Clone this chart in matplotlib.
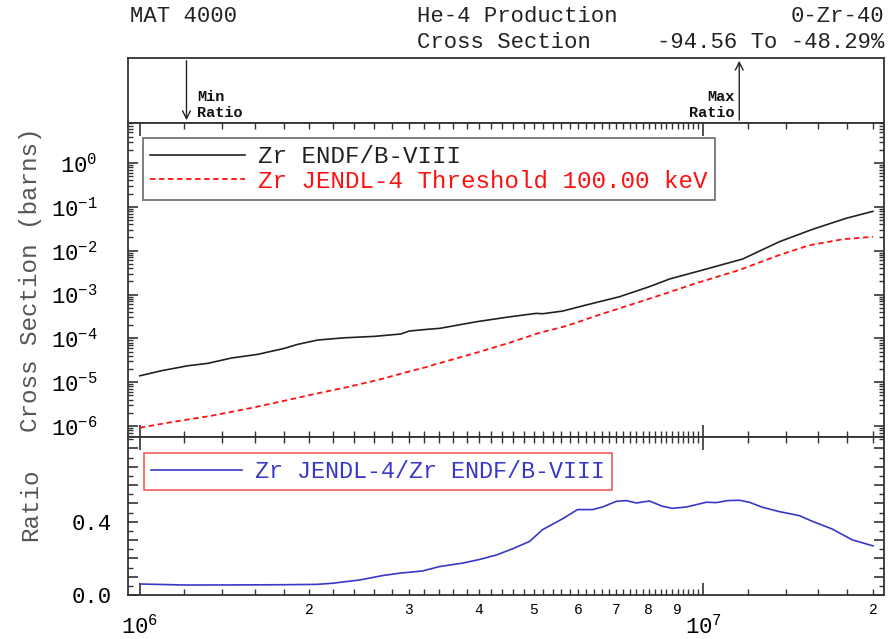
import numpy as np
import matplotlib.pyplot as plt
from matplotlib.ticker import FixedLocator, FuncFormatter, NullFormatter, NullLocator

plt.rcParams['font.family'] = 'Liberation Mono'
plt.rcParams['mathtext.fontset'] = 'custom'
plt.rcParams['mathtext.rm'] = 'Liberation Mono'
plt.rcParams['mathtext.it'] = 'Liberation Mono'
plt.rcParams['mathtext.bf'] = 'Liberation Mono:bold'

# Zr ENDF/B-VIII He-4 production (eV, barns)
endf_e = [1.0e6, 1.091e6, 1.216e6, 1.32e6, 1.452e6, 1.619e6, 1.805e6, 1.906e6, 2.068e6,
          2.307e6, 2.607e6, 2.906e6, 3.007e6, 3.241e6, 3.403e6, 3.954e6, 4.469e6, 5.05e6,
          5.19e6, 5.63e6, 6.19e6, 7.10e6, 8.02e6, 8.71e6, 9.97e6, 1.174e7, 1.364e7,
          1.562e7, 1.791e7, 2.0e7]
endf_xs = [1.40e-5, 1.82e-5, 2.37e-5, 2.69e-5, 3.55e-5, 4.32e-5, 5.91e-5, 7.30e-5, 9.16e-5,
           1.03e-4, 1.11e-4, 1.26e-4, 1.47e-4, 1.61e-4, 1.69e-4, 2.39e-4, 3.02e-4, 3.72e-4,
           3.65e-4, 4.20e-4, 5.75e-4, 8.91e-4, 1.51e-3, 2.26e-3, 3.62e-3, 6.45e-3, 1.60e-2,
           3.07e-2, 5.47e-2, 7.91e-2]

# Zr JENDL-4 He-4 production (eV, barns)
jendl_e = [1.0e6, 1.121e6, 1.338e6, 1.597e6, 1.829e6, 2.04e6, 2.307e6, 2.642e6, 2.946e6,
           3.241e6, 3.311e6, 3.954e6, 4.529e6, 5.12e6, 5.71e6, 6.54e6, 8.02e6, 8.47e6,
           9.70e6, 1.158e7, 1.364e7, 1.542e7, 1.766e7, 2.0e7]
jendl_xs = [9.14e-7, 1.19e-6, 1.71e-6, 2.67e-6, 3.92e-6, 5.37e-6, 7.47e-6, 1.12e-5, 1.64e-5,
            2.25e-5, 2.46e-5, 4.70e-5, 7.94e-5, 1.34e-4, 1.91e-4, 3.46e-4, 8.02e-4, 1.01e-3,
            1.80e-3, 3.62e-3, 7.96e-3, 1.33e-2, 1.82e-2, 2.08e-2]

# JENDL-4 / ENDF/B-VIII ratio
ratio_e = [1.0e6, 1.21e6, 1.462e6, 1.793e6, 2.06e6, 2.198e6, 2.455e6, 2.697e6, 2.89e6,
           3.175e6, 3.40e6, 3.74e6, 4.01e6, 4.30e6, 4.585e6, 4.915e6, 5.18e6, 5.62e6,
           5.98e6, 6.36e6, 6.62e6, 7.01e6, 7.30e6, 7.61e6, 8.02e6, 8.46e6, 8.81e6, 9.33e6,
           1.012e7, 1.055e7, 1.103e7, 1.158e7, 1.207e7, 1.272e7, 1.364e7, 1.48e7, 1.561e7,
           1.693e7, 1.837e7, 2.0e7]
ratio = [0.060, 0.0544, 0.055, 0.056, 0.058, 0.064, 0.082, 0.106, 0.119,
         0.131, 0.155, 0.174, 0.194, 0.219, 0.252, 0.292, 0.356, 0.415,
         0.466, 0.466, 0.480, 0.511, 0.515, 0.502, 0.513, 0.484, 0.473, 0.480,
         0.506, 0.504, 0.515, 0.517, 0.506, 0.479, 0.455, 0.433, 0.402,
         0.360, 0.301, 0.268]

W, H = 896, 639
fig = plt.figure(figsize=(W / 100, H / 100), dpi=100)


def box(top, bottom):
    return [128 / W, 1 - bottom / H, 756 / W, (bottom - top) / H]


ax0 = fig.add_axes(box(58, 123))
ax1 = fig.add_axes(box(123, 437))
ax2 = fig.add_axes(box(437, 595))

xlim = (10 ** 5.979, 10 ** 7.3206)
edge = '#333333'
for ax in (ax0, ax1, ax2):
    ax.set_xscale('log')
    ax.set_xlim(*xlim)
    for s in ax.spines.values():
        s.set_color(edge)
        s.set_linewidth(1.3)

# header panel
ax0.set_ylim(0, 1)
ax0.xaxis.set_major_locator(NullLocator())
ax0.xaxis.set_minor_locator(NullLocator())
ax0.set_yticks([])
i_min = int(np.argmin(ratio))
i_max = int(np.argmax(ratio))
ax0.annotate('', xy=(ratio_e[i_min], 0.0), xytext=(ratio_e[i_min], 1.0),
             arrowprops=dict(arrowstyle='->', color='#222222', lw=1.0, mutation_scale=14))
ax0.annotate('', xy=(ratio_e[i_max], 1.0), xytext=(ratio_e[i_max], 0.0),
             arrowprops=dict(arrowstyle='->', color='#222222', lw=1.0, mutation_scale=14))
ax0.text(ratio_e[i_min] * 1.045, 0.04, 'Min\nRatio', fontsize=11, va='bottom', ha='left',
         linespacing=1.2, color='#111111', fontweight='bold')
ax0.text(ratio_e[i_max] / 1.02, 0.04, 'Max\nRatio', fontsize=11, va='bottom', ha='right',
         linespacing=1.2, color='#111111', fontweight='bold')

hdr = dict(fontsize=16, va='center', color='#222222')
fig.text(130 / W, 1 - 17 / H, 'MAT 4000', ha='left', **hdr)
fig.text(417 / W, 1 - 17 / H, 'He-4 Production', ha='left', **hdr)
fig.text(884 / W, 1 - 17 / H, '0-Zr-40', ha='right', **hdr)
fig.text(417 / W, 1 - 43 / H, 'Cross Section', ha='left', **hdr)
fig.text(884 / W, 1 - 43 / H, '-94.56 To -48.29%', ha='right', **hdr)

# cross section panel
ax1.plot(endf_e, endf_xs, color='#222222', lw=1.2, label='Zr ENDF/B-VIII')
ax1.plot(jendl_e, jendl_xs, color='#ff1010', lw=1.3, ls=(0, (3, 2)),
         label='Zr JENDL-4 Threshold 100.00 keV')
ax1.set_yscale('log')
ax1.set_ylim(10 ** -6.25, 10 ** 0.913)
ax1.yaxis.set_major_locator(FixedLocator([10.0 ** k for k in range(-6, 1)]))
ax1.yaxis.set_major_formatter(FuncFormatter(lambda v, p: r'$\mathrm{10^{%d}}$' % round(np.log10(v))))
leg1 = ax1.legend(loc='upper left', bbox_to_anchor=(0.02, 0.952), borderaxespad=0,
                  fontsize=17.4, frameon=True, fancybox=False, handlelength=3.9,
                  handletextpad=0.55, labelspacing=0.05, borderpad=0.3,
                  labelcolor='linecolor')
leg1.get_frame().set_edgecolor('#444444')
leg1.get_frame().set_linewidth(1.2)
ax1.set_ylabel('Cross Section (barns)', fontsize=17.5, color='#555555')
ax1.yaxis.set_label_coords(-0.114, 0.5)

# ratio panel
ax2.plot(ratio_e, ratio, color='#3838c8', lw=1.2, label='Zr JENDL-4/Zr ENDF/B-VIII')
ax2.set_ylim(0, 0.862)
ax2.yaxis.set_major_locator(FixedLocator(np.arange(0, 0.86, 0.1)))
ax2.yaxis.set_minor_locator(FixedLocator(np.arange(0.05, 0.86, 0.1)))
ax2.yaxis.set_major_formatter(FuncFormatter(
    lambda v, p: '%.1f' % v if abs(v) < 1e-6 or abs(v - 0.4) < 1e-6 else ''))
leg2 = ax2.legend(loc='upper left', bbox_to_anchor=(0.021, 0.899), borderaxespad=0,
                  fontsize=16.8, frameon=True, fancybox=False, handlelength=3.9,
                  handletextpad=0.55, borderpad=0.3, labelcolor='linecolor')
leg2.get_frame().set_edgecolor('#ee3333')
leg2.get_frame().set_linewidth(1.2)
ax2.set_ylabel('Ratio', fontsize=17.5, color='#555555')
ax2.yaxis.set_label_coords(-0.114, 0.57)

# x ticks
minor_x = list(np.arange(1.2e6, 1.0e7 - 1, 0.2e6)) + [1.2e7, 1.4e7, 1.6e7, 1.8e7, 2.0e7]


def minor_label(v, p):
    for m in (2, 3, 4, 5, 6, 7, 8, 9):
        if abs(v - m * 1e6) < 1e3:
            return str(m)
    if abs(v - 2e7) < 1e3:
        return '2'
    return ''


for ax in (ax1, ax2):
    ax.xaxis.set_major_locator(FixedLocator([1e6, 1e7]))
    ax.xaxis.set_minor_locator(FixedLocator(minor_x))
    ax.tick_params(axis='both', which='both', direction='in', top=True, right=True,
                   color=edge)
    ax.tick_params(axis='x', which='major', length=9, width=1.2)
    ax.tick_params(axis='x', which='minor', length=4, width=1.0)
    ax.tick_params(axis='y', which='major', length=7, width=1.2, labelsize=16)
    ax.tick_params(axis='y', which='minor', length=3.5, width=1.0)

ax1.tick_params(axis='y', which='major', pad=22)
ax2.tick_params(axis='y', which='major', pad=12)
ax1.xaxis.set_major_formatter(NullFormatter())
ax1.xaxis.set_minor_formatter(NullFormatter())
ax2.xaxis.set_major_formatter(FuncFormatter(lambda v, p: r'$\mathrm{10^{%d}}$' % round(np.log10(v))))
ax2.xaxis.set_minor_formatter(FuncFormatter(minor_label))
ax2.tick_params(axis='x', which='major', labelsize=16, pad=14)
ax2.tick_params(axis='x', which='minor', labelsize=10.5, pad=6)

fig.savefig('out.png', dpi=100)
